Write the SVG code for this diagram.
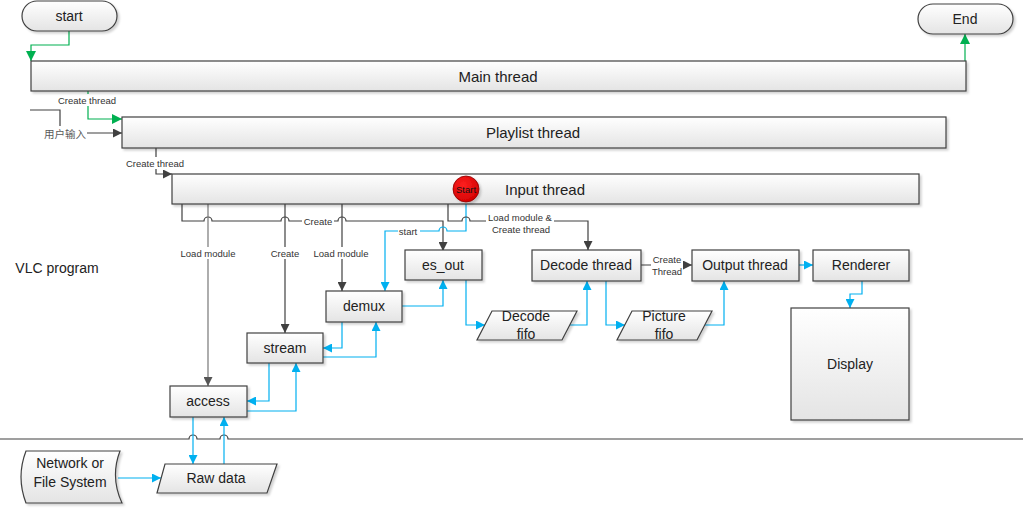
<svg xmlns="http://www.w3.org/2000/svg" width="1023" height="509" viewBox="0 0 1023 509">
<style>
.n{fill:url(#g);stroke:#404040;stroke-width:1.2;filter:url(#sh)}
.t{font-family:"Liberation Sans",Arial,sans-serif;font-size:14px;fill:#222;text-anchor:middle;dominant-baseline:central}
.tb{font-size:15px}
.s{font-family:"Liberation Sans",Arial,sans-serif;font-size:9.5px;fill:#333;text-anchor:middle;dominant-baseline:central}
.k{fill:none;stroke:#404040;stroke-width:1.2}
.kg{fill:none;stroke:#777;stroke-width:1.2}
.b{fill:none;stroke:#00b0f0;stroke-width:1.2}
.gr{fill:none;stroke:#00b050;stroke-width:1.2}
.lb{fill:#fff}
</style>
<defs>
<linearGradient id="g" x1="0" y1="0" x2="0" y2="1"><stop offset="0" stop-color="#ffffff"/><stop offset="1" stop-color="#e4e4e4"/></linearGradient>
<radialGradient id="rg" cx="0.4" cy="0.35" r="0.7"><stop offset="0" stop-color="#ff2020"/><stop offset="1" stop-color="#d00000"/></radialGradient>
<filter id="sh" x="-10%" y="-10%" width="130%" height="140%"><feDropShadow dx="2" dy="2" stdDeviation="1" flood-color="#000" flood-opacity="0.18"/></filter>
<marker id="ak" viewBox="0 0 10 10" refX="10" refY="5" markerWidth="9" markerHeight="9" markerUnits="userSpaceOnUse" orient="auto"><path d="M0,0 L10,5 L0,10 z" fill="#404040"/></marker>
<marker id="akg" viewBox="0 0 10 10" refX="10" refY="5" markerWidth="9" markerHeight="9" markerUnits="userSpaceOnUse" orient="auto"><path d="M0,0 L10,5 L0,10 z" fill="#555"/></marker>
<marker id="ab" viewBox="0 0 10 10" refX="10" refY="5" markerWidth="9" markerHeight="9" markerUnits="userSpaceOnUse" orient="auto"><path d="M0,0 L10,5 L0,10 z" fill="#00b0f0"/></marker>
<marker id="ag" viewBox="0 0 10 10" refX="10" refY="5" markerWidth="10" markerHeight="10" markerUnits="userSpaceOnUse" orient="auto"><path d="M0,0 L10,5 L0,10 z" fill="#00b050"/></marker>
</defs>
<rect width="1023" height="509" fill="#fff"/>

<text x="57" y="268" class="t" style="font-size:14px">VLC program</text>

<g id="connectors">
<path class="k" d="M0,439 H189 A4,4 0 0 1 197,439 H220 A4,4 0 0 1 228,439 H1023"/>
<path class="gr" d="M69,31 V45 H31 V61" marker-end="url(#ag)"/>
<path class="gr" d="M965,61 V34" marker-end="url(#ag)"/>
<path class="gr" d="M88,91 V119 H122" marker-end="url(#ag)"/>
<rect class="lb" x="57" y="94" width="61" height="12"/>
<text class="s" x="87" y="100">Create thread</text>
<path class="k" d="M30,110 H60 V133 H122" marker-end="url(#ak)"/>
<rect class="lb" x="42" y="126" width="45" height="14"/>
<text x="65" y="133" style="font-family:'Noto Sans CJK SC','Noto Sans',sans-serif;font-size:10.5px;fill:#595959;text-anchor:middle;dominant-baseline:central">用户输入</text>
<path class="k" d="M156,148 V174 H172" marker-end="url(#ak)"/>
<rect class="lb" x="124" y="157" width="62" height="12"/>
<text class="s" x="155" y="163">Create thread</text>
<path class="k" d="M182,204 V221 H204 A4,4 0 0 1 212,221 H281 A4,4 0 0 1 289,221 H338 A4,4 0 0 1 346,221 H443 V251" marker-end="url(#ak)"/>
<rect class="lb" x="302" y="215" width="32" height="12"/>
<text class="s" x="318" y="221">Create</text>
<path class="kg" d="M208,204 V386" marker-end="url(#akg)"/>
<rect class="lb" x="179" y="247" width="58" height="12"/>
<text class="s" x="208" y="253">Load module</text>
<path class="k" d="M285,204 V333" marker-end="url(#ak)"/>
<rect class="lb" x="268" y="247" width="34" height="12"/>
<text class="s" x="285" y="253">Create</text>
<path class="k" d="M342,204 V291" marker-end="url(#ak)"/>
<rect class="lb" x="312" y="247" width="60" height="12"/>
<text class="s" x="341" y="253">Load module</text>
<path class="b" d="M466,202 V231 H447 A4,4 0 0 0 439,231 H385 V291" marker-end="url(#ab)"/>
<rect class="lb" x="398" y="225" width="22" height="12"/>
<text class="s" x="408" y="231">start</text>
<path class="k" d="M448,204 V221 H462 A4,4 0 0 1 470,221 H588 V250" marker-end="url(#ak)"/>
<rect class="lb" x="486" y="211" width="68" height="25"/>
<text class="s" x="520" y="217">Load module &amp;</text>
<text class="s" x="521" y="229">Create thread</text>
<path class="k" d="M641,265 H692" marker-end="url(#ak)"/>
<rect class="lb" x="651" y="253" width="32" height="24"/>
<text class="s" x="667" y="259">Create</text>
<text class="s" x="667" y="271">Thread</text>
<path class="b" d="M118,478 H161" marker-end="url(#ab)"/>
<path class="b" d="M193,417 V464" marker-end="url(#ab)"/>
<path class="b" d="M224,464 V417" marker-end="url(#ab)"/>
<path class="b" d="M269,363 V401 H247" marker-end="url(#ab)"/>
<path class="b" d="M247,411 H296 V363" marker-end="url(#ab)"/>
<path class="b" d="M342,322 V348 H323" marker-end="url(#ab)"/>
<path class="b" d="M323,357 H376 V322" marker-end="url(#ab)"/>
<path class="b" d="M402,306 H443 V280" marker-end="url(#ab)"/>
<path class="b" d="M466,280 V325 H485" marker-end="url(#ab)"/>
<path class="b" d="M570,325 H587 V281" marker-end="url(#ab)"/>
<path class="b" d="M606,281 V325 H625" marker-end="url(#ab)"/>
<path class="b" d="M705,325 H724 V281" marker-end="url(#ab)"/>
<path class="b" d="M799,265 H813" marker-end="url(#ab)"/>
<path class="b" d="M862,281 V294 H850 V308" marker-end="url(#ab)"/>
</g>

<g id="start"><rect class="n" x="22" y="1" width="95" height="30" rx="15"/><text class="t" x="69" y="16">start</text></g>
<g id="end"><rect class="n" x="918" y="4" width="95" height="30" rx="15"/><text class="t" x="965" y="19">End</text></g>
<g id="main-thread"><rect class="n" x="31" y="61" width="935" height="30"/><text class="t tb" x="498" y="76">Main thread</text></g>
<g id="playlist-thread"><rect class="n" x="122" y="117" width="824" height="31"/><text class="t tb" x="533" y="132">Playlist thread</text></g>
<g id="input-thread"><rect class="n" x="172" y="174" width="747" height="30"/><text class="t tb" x="545" y="189">Input thread</text>
<circle cx="466" cy="189" r="13" fill="url(#rg)" stroke="#8b0000" stroke-width="0.8" filter="url(#sh)"/>
<text x="466" y="189" style="font-family:'Liberation Sans',Arial,sans-serif;font-size:9.5px;fill:#111;text-anchor:middle;dominant-baseline:central">Start</text></g>
<g id="es_out"><rect class="n" x="405" y="250" width="77" height="30"/><text class="t" x="443" y="265">es_out</text></g>
<g id="demux"><rect class="n" x="326" y="291" width="76" height="31"/><text class="t" x="364" y="306">demux</text></g>
<g id="stream"><rect class="n" x="247" y="333" width="76" height="30"/><text class="t" x="285" y="348">stream</text></g>
<g id="access"><rect class="n" x="170" y="386" width="77" height="31"/><text class="t" x="208" y="401">access</text></g>
<g id="decode-thread"><rect class="n" x="532" y="250" width="109" height="31"/><text class="t" x="586" y="265">Decode thread</text></g>
<g id="output-thread"><rect class="n" x="692" y="250" width="107" height="31"/><text class="t" x="745" y="265">Output thread</text></g>
<g id="renderer"><rect class="n" x="813" y="250" width="96" height="31"/><text class="t" x="861" y="265">Renderer</text></g>
<g id="display"><rect class="n" x="791" y="308" width="118" height="112"/><text class="t" x="850" y="364">Display</text></g>
<g id="decode-fifo"><polygon class="n" points="492,311 577,311 562,340 477,340"/><text class="t" x="526" y="316">Decode</text><text class="t" x="526" y="334">fifo</text></g>
<g id="picture-fifo"><polygon class="n" points="632,311 712,311 697,340 617,340"/><text class="t" x="664" y="316">Picture</text><text class="t" x="664" y="334">fifo</text></g>
<g id="raw-data"><polygon class="n" points="165,464 277,464 267,493 157,493"/><text class="t" x="216" y="478">Raw data</text></g>
<g id="network"><path class="n" d="M26,451 H120 Q110,477 122,503 H26 Q16,477 26,451 Z"/><text class="t" x="70" y="463">Network or</text><text class="t" x="70" y="482">File System</text></g>
</svg>
